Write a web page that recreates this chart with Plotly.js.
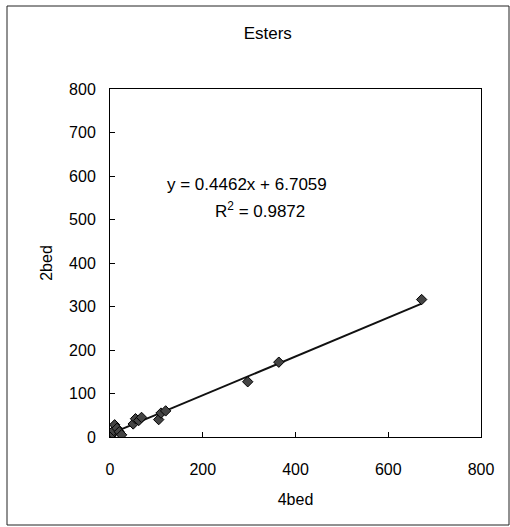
<!DOCTYPE html>
<html>
<head>
<meta charset="utf-8">
<script src="https://cdn.plot.ly/plotly-3.0.1.min.js"></script>
<style>
html,body{margin:0;padding:0;background:#fff;}
#chart{width:510px;height:527px;}
</style>
</head>
<body>
<div id="chart"></div>
<script>
// Data
const x4bed = [2, 5, 8, 10, 15, 20, 25, 50, 55, 62, 68, 105, 110, 120, 297, 364, 672];
const y2bed = [3, 8, 15, 28, 20, 12, 5, 30, 42, 38, 45, 40, 55, 60, 127, 172, 316];
const slope = 0.4462;
const intercept = 6.7059;
const r2 = 0.9872;
const tickVals = [0, 100, 200, 300, 400, 500, 600, 700, 800];
const xTickVals = [0, 200, 400, 600, 800];

const xmin = Math.min(...x4bed), xmax = Math.max(...x4bed);
const lineX = [xmin, xmax];
const lineY = lineX.map(v => slope * v + intercept);

const font = {family: 'Arial, "Liberation Sans", sans-serif', size: 16, color: '#000'};
const bigFont = {family: 'Arial, "Liberation Sans", sans-serif', size: 17, color: '#000'};

const traces = [
  {x: lineX, y: lineY, mode: 'lines', type: 'scatter',
   line: {color: '#111', width: 2}, hoverinfo: 'skip'},
  {x: x4bed, y: y2bed, mode: 'markers', type: 'scatter',
   marker: {symbol: 'diamond', size: 8, color: '#444', line: {color: '#000', width: 1}}}
];

const layout = {
  width: 510, height: 527,
  margin: {l: 110, r: 29, t: 89, b: 90},
  paper_bgcolor: '#fff', plot_bgcolor: '#fff',
  showlegend: false,
  font: font,
  title: {text: 'Esters', font: bigFont, x: 0.525, xanchor: 'center', y: 1 - 33/527, yanchor: 'middle'},
  xaxis: {
    range: [0, 800], tickvals: xTickVals, ticks: 'inside', ticklen: 5, tickcolor: '#000',
    showline: true, linecolor: '#000', linewidth: 1, mirror: true, showgrid: false, zeroline: false,
    ticklabelstandoff: 18,
    title: {text: '4bed', font: font, standoff: 16}
  },
  yaxis: {
    range: [0, 800], tickvals: tickVals, ticks: 'inside', ticklen: 5, tickcolor: '#000',
    showline: true, linecolor: '#000', linewidth: 1, mirror: true, showgrid: false, zeroline: false,
    ticklabelstandoff: 10,
    title: {text: '2bed', font: font, standoff: 12}
  },
  annotations: [
    {xref: 'paper', yref: 'paper', x: (247-110)/371, y: (437-184)/348, showarrow: false,
     text: 'y = ' + slope + 'x + ' + intercept, font: bigFont, xanchor: 'center', yanchor: 'middle'},
    {xref: 'paper', yref: 'paper', x: (260-110)/371, y: (437-210)/348, showarrow: false,
     text: 'R<sup>2</sup> = ' + r2, font: bigFont, xanchor: 'center', yanchor: 'middle'}
  ],
  shapes: [
    {type: 'rect', xref: 'paper', yref: 'paper',
     x0: (7-110)/371, x1: (509-110)/371, y0: (437-525)/348, y1: (437-6)/348,
     line: {color: '#222', width: 1}, fillcolor: 'rgba(0,0,0,0)'}
  ]
};

Plotly.newPlot('chart', traces, layout, {displayModeBar: false, staticPlot: true});
</script>
</body>
</html>
